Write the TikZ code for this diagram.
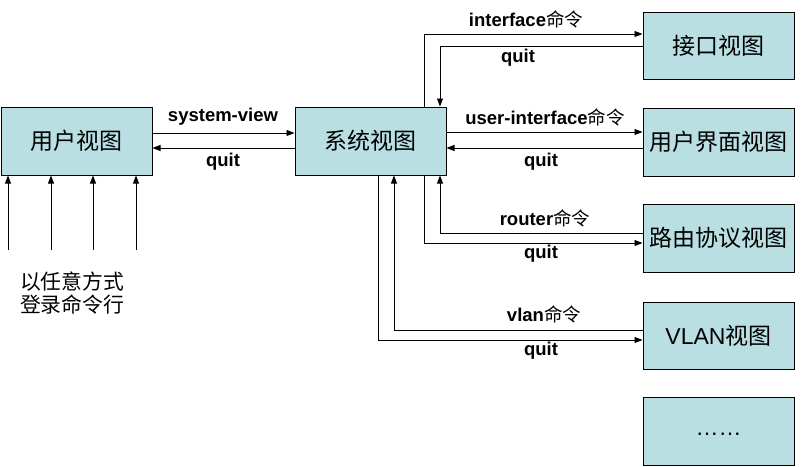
\documentclass[tikz,border=0pt]{standalone}
\usepackage{fontspec}
\setmainfont{Liberation Sans}
\newfontfamily\cjk{Noto Sans CJK SC}
\usetikzlibrary{arrows.meta}
\definecolor{boxfill}{RGB}{185,223,227}
\tikzset{
  viewbox/.style={draw=black, line width=1pt, fill=boxfill, minimum width=151pt, minimum height=68pt, inner sep=0pt, font=\fontsize{23}{26}\selectfont},
  arr/.style={line width=0.9pt, -{Triangle[length=8pt,width=6pt]}},
  plain/.style={line width=0.9pt},
  lbl/.style={inner sep=0pt, font=\fontsize{18.5}{22}\selectfont\bfseries},
  note/.style={inner sep=0pt, font=\fontsize{20.8}{23}\selectfont\cjk, align=center}
}
\begin{document}
\begin{tikzpicture}[x=1pt,y=-1pt]
\useasboundingbox (0,0) rectangle (806,466);
% boxes
\node[viewbox] (user) at (76.5,141) {\cjk 用户视图};
\node[viewbox] (sys) at (370.5,141) {\cjk 系统视图};
\node[viewbox, minimum height=67pt] (iface) at (718.5,45.5) {\cjk 接口视图};
\node[viewbox] (ui) at (718.5,142) {\cjk 用户界面视图};
\node[viewbox] (router) at (718.5,238) {\cjk 路由协议视图};
\node[viewbox, minimum height=67pt] (vlan) at (718.5,335.5) {VLAN{\cjk 视图}};
\node[viewbox] (more) at (718.5,431) {\raisebox{-8pt}{……}};
% user <-> sys
\draw[arr] ([yshift=8pt]user.east) -- ([yshift=8pt]user.east -| sys.west);
\draw[arr] ([yshift=-7pt]sys.west) -- ([yshift=-7pt]sys.west -| user.east);
\node[lbl] (l1) at (223,117) {system-view};
\node[lbl] (l2) at (223,162) {quit};
% interface
\draw[arr] ([xshift=53.5pt]sys.north) |- ([yshift=11.5pt]iface.west);
\draw[arr] ([yshift=-0.5pt]iface.west) -| ([xshift=69.5pt]sys.north);
\node[lbl] (l3) at (526,19) {interface{\cjk\mdseries 命令}};
\node[lbl] (l4) at (518,58) {quit};
% user-interface
\draw[arr] ([yshift=9pt]sys.east) -- ([yshift=9pt]sys.east -| ui.west);
\draw[arr] ([yshift=-6pt]ui.west) -- ([yshift=-6pt]ui.west -| sys.east);
\node[lbl] (l5) at (545,117) {user-interface{\cjk\mdseries 命令}};
\node[lbl] (l6) at (541,162) {quit};
% router
\draw[arr] ([yshift=5pt]router.west) -| ([xshift=69.5pt]sys.south);
\draw[arr] ([xshift=53.5pt]sys.south) |- ([yshift=-5pt]router.west);
\node[lbl] (l7) at (545,218) {router{\cjk\mdseries 命令}};
\node[lbl] (l8) at (541,254) {quit};
% vlan
\draw[arr] ([yshift=5.5pt]vlan.west) -| ([xshift=23.5pt]sys.south);
\draw[arr] ([xshift=7.5pt]sys.south) |- ([yshift=-4.5pt]vlan.west);
\node[lbl] (l9) at (544,314) {vlan{\cjk\mdseries 命令}};
\node[lbl] (l10) at (541,351) {quit};
% login arrows
\coordinate (in1) at (8,250);
\coordinate (in2) at (51,250);
\coordinate (in3) at (93,250);
\coordinate (in4) at (136,250);
\draw[arr] (in1) -- (in1 |- user.south);
\draw[arr] (in2) -- (in2 |- user.south);
\draw[arr] (in3) -- (in3 |- user.south);
\draw[arr] (in4) -- (in4 |- user.south);
\node[note] (n1) at (72,282) {以任意方式};
\node[note] (n2) at (72,305) {登录命令行};
\end{tikzpicture}
\end{document}
